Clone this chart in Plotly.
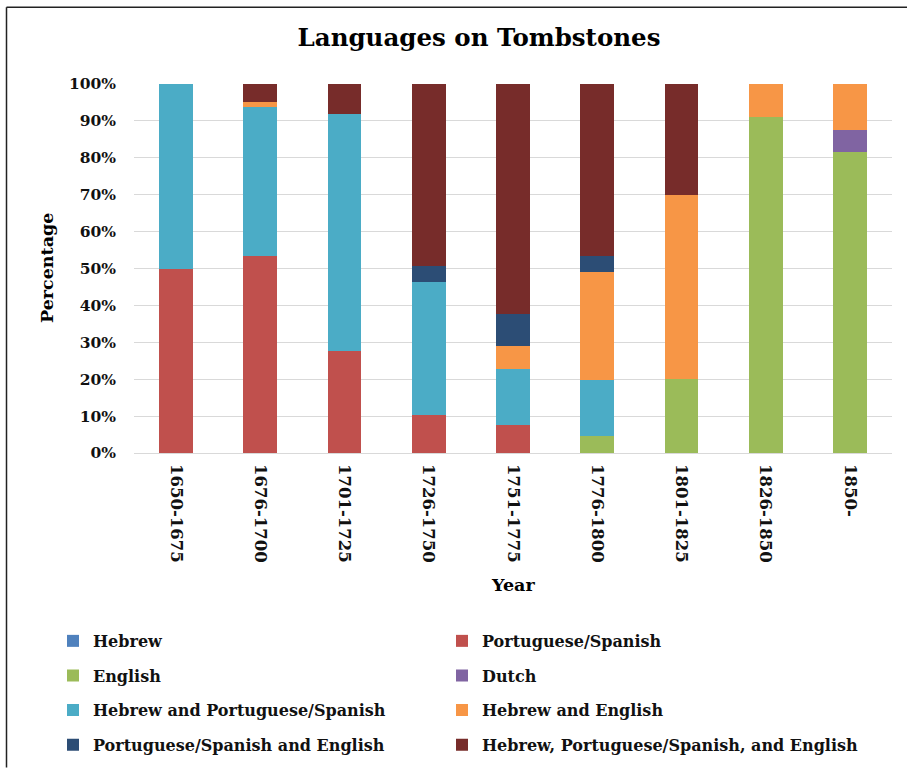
import plotly.graph_objects as go

# Time periods on the x axis
periods = ["1650-1675", "1676-1700", "1701-1725", "1726-1750", "1751-1775",
           "1776-1800", "1801-1825", "1826-1850", "1850-"]

# Share of tombstones (%) per language group, bottom of the stack first
hebrew = [0, 0, 0, 0, 0, 0, 0, 0, 0]
port_span = [50.0, 53.3, 27.6, 10.4, 7.5, 0, 0, 0, 0]
english = [0, 0, 0, 0, 0, 4.5, 20.0, 91.0, 81.5]
dutch = [0, 0, 0, 0, 0, 0, 0, 0, 6.0]
heb_port = [50.0, 40.6, 64.3, 35.9, 15.4, 15.3, 0, 0, 0]
heb_eng = [0, 1.3, 0, 0, 6.0, 29.2, 50.0, 9.0, 12.5]
port_eng = [0, 0, 0, 4.3, 8.9, 4.3, 0, 0, 0]
heb_port_eng = [0, 4.8, 8.1, 49.4, 62.2, 46.7, 30.0, 0, 0]

y_ticks = [0, 10, 20, 30, 40, 50, 60, 70, 80, 90, 100]
y_tick_labels = [f"{v}%" for v in y_ticks]

series = [
    ("Hebrew", hebrew, "#4F81BD"),
    ("Portuguese/Spanish", port_span, "#C0504D"),
    ("English", english, "#9BBB59"),
    ("Dutch", dutch, "#8064A2"),
    ("Hebrew and Portuguese/Spanish", heb_port, "#4BACC6"),
    ("Hebrew and English", heb_eng, "#F79646"),
    ("Portuguese/Spanish and English", port_eng, "#2C4D75"),
    ("Hebrew, Portuguese/Spanish, and English", heb_port_eng, "#772C2A"),
]

W, H = 907, 773
ML, MR, MT, MB = 134, 15, 84, 316
PW, PH = W - ML - MR, H - MT - MB
FONT = "DejaVu Serif"
TXT = "#111111"


def px(x):
    return (x - ML) / PW


def py(y):
    return (MT + PH - y) / PH


fig = go.Figure()

# two-column legend: one small legend per entry
legend_cols = [53, 442]
legend_rows = [647, 682, 717, 752]
legend_layout = {}
for i, (name, vals, color) in enumerate(series):
    key = "legend" if i == 0 else f"legend{i + 1}"
    fig.add_trace(go.Bar(
        x=periods, y=vals, name=name,
        marker=dict(color=color, line=dict(width=0)),
        legend=key,
    ))
    legend_layout[key] = dict(
        x=px(legend_cols[i % 2]), y=py(legend_rows[i // 2]),
        xanchor="left", yanchor="middle",
        orientation="h", bgcolor="rgba(0,0,0,0)", borderwidth=0,
        font=dict(family=FONT, size=16, color=TXT, weight="bold"),
        itemwidth=30,
    )

fig.update_layout(
    barmode="stack",
    bargap=0.6,
    width=W, height=H,
    margin=dict(l=ML, r=MR, t=MT, b=MB),
    paper_bgcolor="white",
    plot_bgcolor="white",
    showlegend=True,
    title=dict(
        text="<b>Languages on Tombstones</b>",
        x=px(479), xref="paper", xanchor="center",
        y=1 - 37 / H, yref="container", yanchor="middle",
        font=dict(family=FONT, size=24.5, color="#000000"),
    ),
    **legend_layout,
)

fig.update_yaxes(
    range=[0, 100], tickmode="array", tickvals=y_ticks, ticktext=y_tick_labels,
    showgrid=True, gridcolor="#D9D9D9", gridwidth=1,
    zeroline=True, zerolinecolor="#D9D9D9", zerolinewidth=1,
    showline=False, ticks="", ticklabelstandoff=17,
    tickfont=dict(family=FONT, size=15.5, color=TXT, weight="bold"),
    fixedrange=True,
)
fig.update_xaxes(
    tickangle=90, ticks="", showline=False, showgrid=False,
    ticklabelstandoff=10,
    tickfont=dict(family=FONT, size=16.5, color=TXT, weight="bold"),
    fixedrange=True,
)

# axis titles
fig.add_annotation(
    text="<b>Percentage</b>", textangle=-90,
    x=px(47), y=py(270), xref="paper", yref="paper",
    xanchor="center", yanchor="middle",
    showarrow=False, font=dict(family=FONT, size=17.5, color="#000000"),
)
fig.add_annotation(
    text="<b>Year</b>",
    x=px(513), y=py(590), xref="paper", yref="paper",
    xanchor="center", yanchor="middle",
    showarrow=False, font=dict(family=FONT, size=17.5, color="#000000"),
)

# frame lines along the top and left edges
fig.add_shape(type="line", xref="paper", yref="paper",
              x0=px(6.5), y0=py(6.5), x1=px(W + 2), y1=py(6.5),
              line=dict(color="#222222", width=1.5))
fig.add_shape(type="line", xref="paper", yref="paper",
              x0=px(6.5), y0=py(6.5), x1=px(6.5), y1=py(H + 2),
              line=dict(color="#222222", width=1.5))

fig.write_html("out.html")
